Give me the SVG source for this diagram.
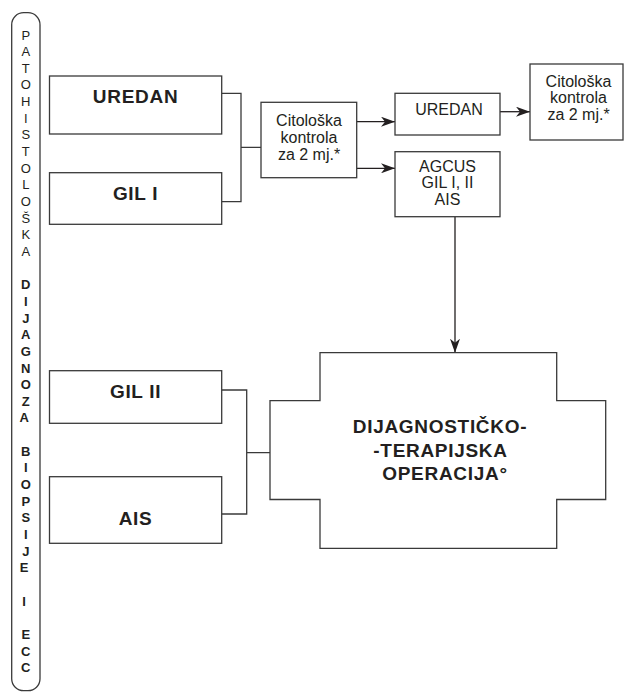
<svg xmlns="http://www.w3.org/2000/svg" width="624" height="694" viewBox="0 0 624 694">
<style>
.box{fill:#fff;stroke:#3a3a3a;stroke-width:1.3}
.ln{fill:none;stroke:#3a3a3a;stroke-width:1.3}
.ar{fill:none;stroke:#231f20;stroke-width:1.3}
.b{font-family:"Liberation Sans",Arial,sans-serif;font-weight:bold;font-size:19px;letter-spacing:0.7px;fill:#231f20;text-anchor:middle}
.r{font-family:"Liberation Sans",Arial,sans-serif;font-size:16px;fill:#231f20;text-anchor:middle}
.v{font-family:"Liberation Sans",Arial,sans-serif;font-size:13px;fill:#231f20;text-anchor:middle}
.vb{font-weight:bold}
</style>
<defs>
<marker id="ah" markerUnits="userSpaceOnUse" markerWidth="15" markerHeight="10" refX="14" refY="5" orient="auto">
<path d="M0,0 L14,5 L0,10 L4,5 z" fill="#231f20"/>
</marker>
</defs>
<rect width="624" height="694" fill="#fff"/>
<g id="side-label">
<rect class="box" x="11.7" y="12.7" width="28.3" height="678" rx="12" ry="12"/>
<text class="v">
<tspan x="25.8" y="39.5">P</tspan><tspan x="25.8" y="56.15">A</tspan><tspan x="25.8" y="72.8">T</tspan><tspan x="25.8" y="89.45">O</tspan><tspan x="25.8" y="106.1">H</tspan><tspan x="25.8" y="122.75">I</tspan><tspan x="25.8" y="139.4">S</tspan><tspan x="25.8" y="156.05">T</tspan><tspan x="25.8" y="172.7">O</tspan><tspan x="25.8" y="189.35">L</tspan><tspan x="25.8" y="206">O</tspan><tspan x="25.8" y="222.65">Š</tspan><tspan x="25.8" y="239.3">K</tspan><tspan x="25.8" y="255.95">A</tspan>
</text>
<text class="v vb">
<tspan x="25.8" y="289.25">D</tspan><tspan x="25.8" y="305.9">I</tspan><tspan x="25.8" y="322.55">J</tspan><tspan x="25.8" y="339.2">A</tspan><tspan x="25.8" y="355.85">G</tspan><tspan x="25.8" y="372.5">N</tspan><tspan x="25.8" y="389.15">O</tspan><tspan x="25.8" y="405.8">Z</tspan><tspan x="25.8" y="422.45">A</tspan>
<tspan x="25.8" y="455.75">B</tspan><tspan x="25.8" y="472.4">I</tspan><tspan x="25.8" y="489.05">O</tspan><tspan x="25.8" y="505.7">P</tspan><tspan x="25.8" y="522.35">S</tspan><tspan x="25.8" y="539">I</tspan><tspan x="25.8" y="555.65">J</tspan><tspan x="25.8" y="572.3">E</tspan>
<tspan x="25.8" y="605.6">I</tspan>
<tspan x="25.8" y="638.9">E</tspan><tspan x="25.8" y="655.55">C</tspan><tspan x="25.8" y="672.2">C</tspan>
</text>
</g>
<g id="connectors">
<path class="ln" d="M221.7,93.3 H241 V201.7 H221.7 M241,147.3 H261"/>
<path class="ln" d="M221.7,390 H246.7 V514 H221.7 M246.7,452.7 H270"/>
<path class="ar" d="M356.7,121.7 H395" marker-end="url(#ah)"/>
<path class="ar" d="M356.7,168.3 H395" marker-end="url(#ah)"/>
<path class="ar" d="M500,111.7 H530" marker-end="url(#ah)"/>
<path class="ar" d="M455,216.7 V352.7" marker-end="url(#ah)"/>
</g>
<g id="n-uredan">
<rect class="box" x="49.5" y="76" width="172.2" height="58"/>
<text class="b" x="135.6" y="103.3">UREDAN</text>
</g>
<g id="n-gil1">
<rect class="box" x="49.5" y="172.7" width="172.2" height="51.6"/>
<text class="b" x="135.6" y="200">GIL I</text>
</g>
<g id="n-gil2">
<rect class="box" x="49.5" y="370.7" width="172.2" height="52.6"/>
<text class="b" x="135.6" y="398.3">GIL II</text>
</g>
<g id="n-ais">
<rect class="box" x="49.5" y="476.7" width="172.2" height="66.6"/>
<text class="b" x="135.6" y="525">AIS</text>
</g>
<g id="n-cito1">
<rect class="box" x="261" y="102.3" width="95.7" height="75.4"/>
<text class="r"><tspan x="309" y="125.7">Citološka</tspan><tspan x="309" y="143.3">kontrola</tspan><tspan x="309" y="160">za 2 mj.*</tspan></text>
</g>
<g id="n-uredan2">
<rect class="box" x="395" y="93.3" width="105" height="41.7"/>
<text class="r" x="449" y="115">UREDAN</text>
</g>
<g id="n-agcus">
<rect class="box" x="395" y="151.7" width="105" height="65"/>
<text class="r"><tspan x="447.5" y="171.7">AGCUS</tspan><tspan x="447.5" y="188.3">GIL I, II</tspan><tspan x="447.5" y="205">AIS</tspan></text>
</g>
<g id="n-cito2">
<rect class="box" x="530" y="64" width="93" height="76"/>
<text class="r"><tspan x="578.5" y="86.7">Citološka</tspan><tspan x="578.5" y="103.3">kontrola</tspan><tspan x="578.5" y="120">za 2 mj.*</tspan></text>
</g>
<g id="n-operacija">
<path class="box" d="M320,352.7 H556.7 V400.7 H605.7 V499.5 H556.7 V548.3 H320 V499.5 H270 V400.7 H320 Z"/>
<text class="b"><tspan x="440" y="433.3">DIJAGNOSTIČKO-</tspan><tspan x="440.5" y="457.3">-TERAPIJSKA</tspan><tspan x="445" y="480">OPERACIJA°</tspan></text>
</g>
</svg>
